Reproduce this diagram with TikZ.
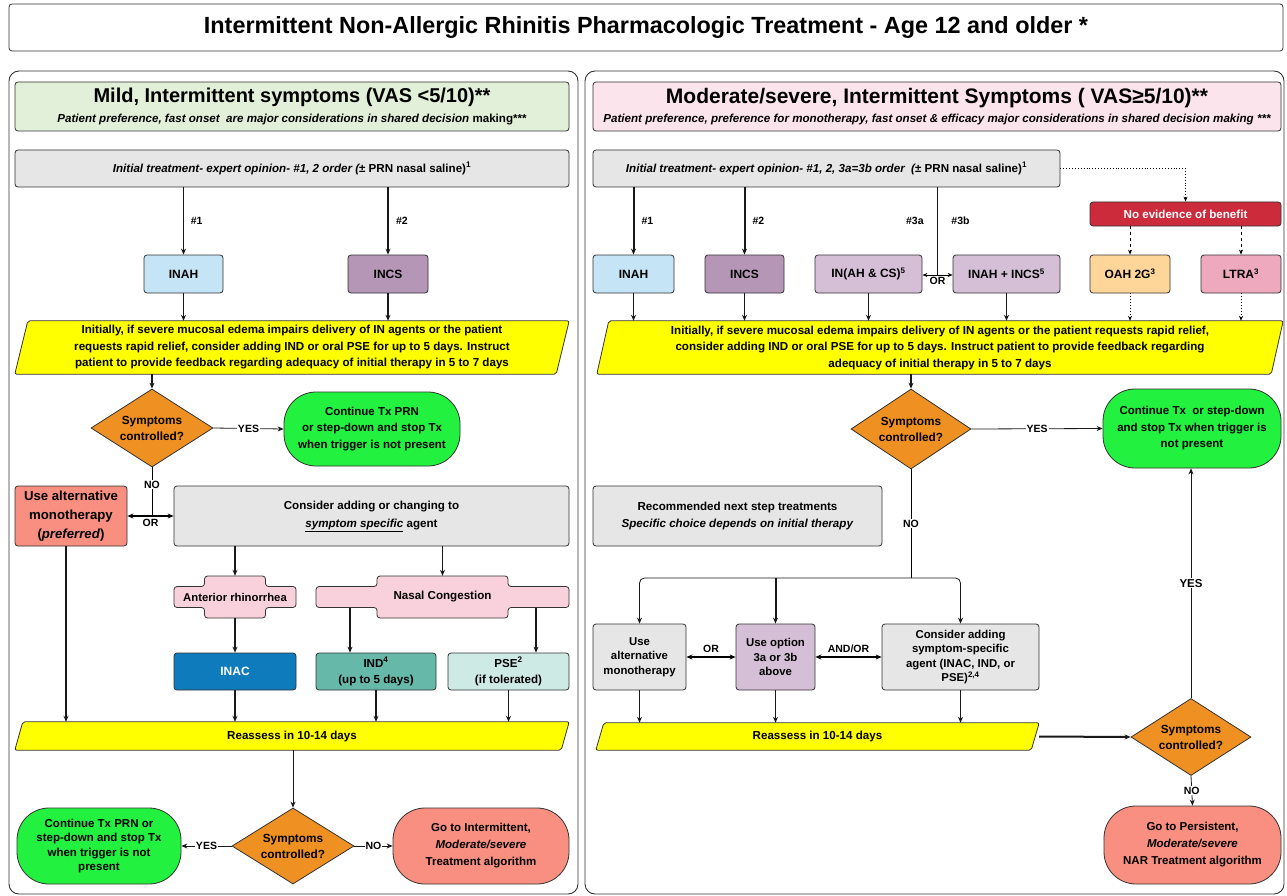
\documentclass[tikz,border=0pt]{standalone}
\usepackage{fontspec}
\setmainfont{Liberation Sans}
\usetikzlibrary{shapes.geometric,arrows.meta,backgrounds,calc}
\definecolor{hdrgreen}{HTML}{E2F0D9}
\definecolor{hdrpink}{HTML}{FCE4EC}
\definecolor{boxgray}{HTML}{E6E6E6}
\definecolor{ahblue}{HTML}{C5E4F5}
\definecolor{cspurple}{HTML}{B596B6}
\definecolor{lilac}{HTML}{D5BFD6}
\definecolor{oahorange}{HTML}{FFD699}
\definecolor{ltrapink}{HTML}{EEA9BE}
\definecolor{evred}{HTML}{CC2B3B}
\definecolor{yel}{HTML}{FFFF00}
\definecolor{dorange}{HTML}{EF9022}
\definecolor{okgreen}{HTML}{22F23F}
\definecolor{salmon}{HTML}{F98F80}
\definecolor{crosspink}{HTML}{F9D1DC}
\definecolor{inacblue}{HTML}{0E7BBD}
\definecolor{indteal}{HTML}{66B8A9}
\definecolor{pseteal}{HTML}{CDEAE4}
\definecolor{edge}{HTML}{333333}
\newcommand{\yelpara}[2]{%
  \begin{scope}[on background layer]
  \draw[fill=yel, draw=edge, line width=0.8pt, rounded corners=2pt]
    ([xshift=#2]#1.north west) -- (#1.north east) -- ([xshift=-#2]#1.south east) -- (#1.south west) -- cycle;
  \end{scope}}
\newcommand{\crossshape}[5]{%
  \begin{scope}[on background layer, shift={(#1.center)}]
  \draw[fill=crosspink, draw=edge, line width=0.8pt, rounded corners=3pt]
    (-#4,-#5) -- (#4,-#5) -- (#4,-#3) -- (#2,-#3) -- (#2,#3) -- (#4,#3) -- (#4,#5)
    -- (-#4,#5) -- (-#4,#3) -- (-#2,#3) -- (-#2,-#3) -- (-#4,-#3) -- cycle;
  \end{scope}}
\begin{document}
\begin{tikzpicture}[x=1pt,y=-1pt,
  base/.style={font=\bfseries\fontsize{11.6}{16.5}\selectfont, align=center, inner sep=2pt, text=black},
  box/.style={base, draw=edge, line width=0.8pt, rounded corners=3pt},
  dia/.style={base, shape=diamond, draw=edge, line width=0.8pt, fill=dorange, aspect=1.6, inner sep=0pt,
    minimum width=122pt, minimum height=78pt, font=\bfseries\fontsize{11.8}{16}\selectfont},
  stad/.style={base, draw=edge, line width=0.8pt, rounded corners=32pt, font=\bfseries\fontsize{11.5}{16.5}\selectfont},
  lbl/.style={font=\bfseries\fontsize{10.5}{11}\selectfont, fill=white, inner sep=1pt},
  lblp/.style={font=\bfseries\fontsize{10.5}{11}\selectfont, inner sep=1pt},
  arr/.style={-{Stealth[length=6pt,width=5pt]}, line width=1.3pt, draw=black!90},
  tarr/.style={arr, line width=0.8pt},
  barr/.style={arr, line width=2pt},
  darr/.style={{Stealth[length=6pt,width=5pt]}-{Stealth[length=6pt,width=5pt]}, line width=1.4pt},
  plainline/.style={line width=1.3pt, draw=black!90},
  tag/.style={font=\bfseries\fontsize{12}{14}\selectfont},
]
\useasboundingbox (0,0) rectangle (1287,896);
\begin{scope}[on background layer]
\fill[white] (0,0) rectangle (1287,896);
\end{scope}

% title and panels
\node[box, fill=white, minimum width=1274pt, minimum height=47pt, font=\bfseries\fontsize{23.4}{26}\selectfont] (title) at (646,27.5)
  {Intermittent Non-Allergic Rhinitis Pharmacologic Treatment - Age 12 and older *};
\draw[edge, line width=0.9pt, rounded corners=10pt] (9,71) rectangle (578,894);
\draw[edge, line width=0.9pt, rounded corners=10pt] (585,71) rectangle (1284,894);

% ================= LEFT =================
\node[box, fill=hdrgreen, minimum width=554pt, minimum height=49pt] (lhead) at (292,106.5)
  {{\fontsize{20}{22}\selectfont Mild, Intermittent symptoms (VAS <5/10)**}\\[3pt]
   {\fontsize{11.6}{13}\selectfont\itshape Patient preference, fast onset\ \ are major considerations in shared decision \upshape making***}};
\node[box, fill=boxgray, minimum width=554pt, minimum height=37pt] (lit) at (292,168.5)
  {\itshape Initial treatment- expert opinion- \#1, 2 order (\upshape± PRN nasal saline)\textsuperscript{1}};
\node[box, fill=ahblue, minimum width=79pt, minimum height=38pt, tag] (linah) at (183.5,274) {INAH};
\node[box, fill=cspurple, minimum width=80pt, minimum height=38pt, tag] (lincs) at (388,274) {INCS};
\node[base, minimum width=554pt, minimum height=53pt] (ly) at (292,347.5)
  {Initially, if severe mucosal edema impairs delivery of IN agents or the patient\\
   requests rapid relief, consider adding IND or oral PSE for up to 5 days. Instruct\\
   patient to provide feedback regarding adequacy of initial therapy in 5 to 7 days};
\yelpara{ly}{13pt}
\node[dia] (ld1) at (152,428) {Symptoms\\controlled?};
\node[stad, fill=okgreen, minimum width=176pt, minimum height=74pt] (lg1) at (372,429)
  {Continue Tx PRN\\or step-down and stop Tx\\when trigger is not present};
\node[box, fill=salmon, minimum width=112pt, minimum height=60pt, font=\bfseries\fontsize{13.2}{19}\selectfont] (lalt) at (71,516)
  {Use alternative\\monotherapy\\(\textit{preferred})};
\node[box, fill=boxgray, minimum width=395pt, minimum height=60pt, font=\bfseries\fontsize{11.6}{18}\selectfont] (lcons) at (371.5,516)
  {Consider adding or changing to\\\underline{\itshape symptom specific} agent};
\node[base, minimum width=122pt, minimum height=42pt, inner sep=0pt, font=\bfseries\fontsize{11.3}{12}\selectfont] (ar) at (235,597) {Anterior rhinorrhea};
\crossshape{ar}{61}{10.5}{30.5}{21}
\node[base, minimum width=253pt, minimum height=42pt, font=\bfseries\fontsize{11.6}{12}\selectfont] (nc) at (442.5,597) {Nasal Congestion};
\crossshape{nc}{126.5}{10.5}{65.5}{21}
\node[box, fill=inacblue, text=white, minimum width=122pt, minimum height=37pt, tag] (inac) at (235,671.5) {INAC};
\node[box, fill=indteal, minimum width=120pt, minimum height=37pt, font=\bfseries\fontsize{11.6}{16}\selectfont] (ind) at (376,671.5) {IND\textsuperscript{4}\\(up to 5 days)};
\node[box, fill=pseteal, minimum width=121pt, minimum height=37pt, font=\bfseries\fontsize{11.6}{16}\selectfont] (pse) at (508.5,671.5) {PSE\textsuperscript{2}\\(if tolerated)};
\node[base, minimum width=554pt, minimum height=28pt] (lr) at (292,736) {Reassess in 10-14 days};
\yelpara{lr}{8pt}
\node[dia, minimum height=76pt] (ld2) at (293,846) {Symptoms\\controlled?};
\node[stad, fill=okgreen, minimum width=164pt, minimum height=76pt, font=\bfseries\fontsize{11.5}{14.2}\selectfont] (lg2) at (99,846)
  {Continue Tx PRN or\\step-down and stop Tx\\when trigger is not\\present};
\node[stad, fill=salmon, minimum width=176pt, minimum height=76pt, font=\bfseries\fontsize{11.5}{17}\selectfont] (ls) at (481,846)
  {Go to Intermittent,\\\textit{Moderate/severe}\\Treatment algorithm};

% left connectors
\draw[tarr] (lit.south -| linah) -- (linah.north) node[lblp, midway, right=6pt]{\#1};
\draw[barr] (lit.south -| lincs) -- (lincs.north) node[lblp, midway, right=6pt]{\#2};
\draw[tarr] (linah.south) -- (linah.south |- ly.north);
\draw[arr] (lincs.south) -- (lincs.south |- ly.north);
\draw[arr] (ly.south -| ld1.north) -- (ld1.north);
\draw[tarr] (ld1.east) -- (lg1.west) node[lbl, midway]{YES};
\coordinate (lno) at (ld1.south |- lalt.east);
\draw[line width=0.8pt] (ld1.south) -- (lno) node[lbl, pos=0.35]{NO};
\draw[darr] (lalt.east) -- (lcons.west) node[lblp, midway, below=1pt]{OR};
\draw[arr] (lcons.south -| ar.north) -- (ar.north);
\draw[arr] (lcons.south -| nc.north) -- (nc.north);
\draw[arr] (ar.south) -- (inac.north);
\coordinate (ncb) at ([yshift=10.5pt]nc.south);
\coordinate (indtop) at ([xshift=-26pt]ind.north);
\coordinate (psetop) at ([xshift=27.5pt]pse.north);
\draw[arr] (indtop |- ncb) -- (indtop);
\draw[arr] (psetop |- ncb) -- (psetop);
\coordinate (laltb) at ([xshift=-5pt]lalt.south);
\draw[barr] (laltb) -- (laltb |- lr.north);
\draw[arr] (inac.south) -- (inac.south |- lr.north);
\draw[arr] (ind.south) -- (ind.south |- lr.north);
\draw[arr] (pse.south) -- (pse.south |- lr.north);
\draw[tarr] (lr.south -| ld2.north) -- (ld2.north);
\draw[tarr] (ld2.west) -- (lg2.east) node[lbl, midway]{YES};
\draw[tarr] (ld2.east) -- (ls.west) node[lbl, midway]{NO};

% ================= RIGHT =================
\node[box, fill=hdrpink, minimum width=688pt, minimum height=49pt] (rhead) at (937,106.5)
  {{\fontsize{21}{22}\selectfont Moderate/severe, Intermittent Symptoms ( VAS≥5/10)**}\\[3pt]
   {\fontsize{11.6}{13}\selectfont\itshape Patient preference, preference for monotherapy, fast onset \& efficacy major considerations in shared decision making ***}};
\node[box, fill=boxgray, minimum width=467pt, minimum height=37pt] (rit) at (826.5,168.5)
  {\itshape Initial treatment- expert opinion- \#1, 2, 3a=3b order\ \ (\upshape± PRN nasal saline)\textsuperscript{1}};
\node[box, fill=evred, text=white, minimum width=191pt, minimum height=24pt, inner sep=0pt] (noev) at (1185.5,214) {No evidence of benefit};
\node[box, fill=ahblue, minimum width=81pt, minimum height=38pt, tag] (rinah) at (633.5,274) {INAH};
\node[box, fill=cspurple, minimum width=79pt, minimum height=38pt, tag] (rincs) at (744.5,274) {INCS};
\node[box, fill=lilac, minimum width=107pt, minimum height=38pt, tag] (rinahcs) at (868.5,274) {IN(AH \& CS)\textsuperscript{5}};
\node[box, fill=lilac, minimum width=107pt, minimum height=38pt, tag] (rinahincs) at (1006.5,274) {INAH + INCS\textsuperscript{5}};
\node[box, fill=oahorange, minimum width=80pt, minimum height=38pt, tag] (oah) at (1130,274) {OAH 2G\textsuperscript{3}};
\node[box, fill=ltrapink, minimum width=80pt, minimum height=38pt, tag] (ltra) at (1241,274) {LTRA\textsuperscript{3}};
\node[base, minimum width=686pt, minimum height=53pt] (ry) at (940,347.5)
  {Initially, if severe mucosal edema impairs delivery of IN agents or the patient requests rapid relief,\\
   consider adding IND or oral PSE for up to 5 days. Instruct patient to provide feedback regarding\\
   adequacy of initial therapy in 5 to 7 days};
\yelpara{ry}{12pt}
\node[dia, minimum width=120pt, minimum height=80pt] (rd1) at (911,429) {Symptoms\\controlled?};
\node[stad, fill=okgreen, minimum width=178pt, minimum height=79pt] (rg) at (1192,428.5)
  {Continue Tx\ \ or step-down\\and stop Tx when trigger is\\not present};
\node[box, fill=boxgray, minimum width=289pt, minimum height=60pt, font=\bfseries\fontsize{11.6}{16.5}\selectfont] (rec) at (737.5,516)
  {Recommended next step treatments\\\textit{Specific choice depends on initial therapy}};
\node[box, fill=boxgray, minimum width=93pt, minimum height=66pt, inner sep=0pt, font=\bfseries\fontsize{11.4}{14.5}\selectfont] (ruse) at (639.5,657)
  {Use\\alternative\\monotherapy};
\node[box, fill=lilac, minimum width=79pt, minimum height=66pt, inner sep=0pt, font=\bfseries\fontsize{11.4}{14.5}\selectfont] (ropt) at (775.5,657)
  {Use option\\3a or 3b\\above};
\node[box, fill=boxgray, minimum width=157pt, minimum height=66pt, inner sep=0pt, font=\bfseries\fontsize{11.4}{14.2}\selectfont] (rcons) at (960.5,657)
  {Consider adding\\symptom-specific\\agent (INAC, IND, or\\PSE)\textsuperscript{2,4}};
\node[base, minimum width=443pt, minimum height=27pt] (rr) at (817.5,736.5) {Reassess in 10-14 days};
\yelpara{rr}{8pt}
\node[dia, minimum width=120pt, minimum height=77pt] (rd2) at (1191,737) {Symptoms\\controlled?};
\node[stad, fill=salmon, minimum width=177pt, minimum height=78pt, font=\bfseries\fontsize{11.5}{17}\selectfont] (rs) at (1192.5,845)
  {Go to Persistent,\\\textit{Moderate/severe}\\NAR Treatment algorithm};

% right connectors
\draw[barr] (rit.south -| rinah.north) -- (rinah.north) node[lblp, midway, right=6pt]{\#1};
\draw[barr] (rit.south -| rincs.north) -- (rincs.north) node[lblp, midway, right=6pt]{\#2};
\coordinate (jor) at ($(rinahcs.east)!0.5!(rinahincs.west)+(0,1)$);
\draw[plainline, line width=1.8pt] (rit.south -| jor) -- (jor)
  node[lblp, pos=0.38, left=12pt]{\#3a} node[lblp, pos=0.38, right=12pt]{\#3b};
\draw[{Stealth[length=5pt,width=4pt]}-{Stealth[length=5pt,width=4pt]}, line width=1pt] (rinahcs.east |- jor) -- (rinahincs.west |- jor)
  node[lblp, midway, below=1pt]{OR};
\draw[dotted, line width=0.9pt, -{Stealth[length=5pt,width=4pt]}] (rit.east) -- (noev.north |- rit.east) -- (noev.north);
\draw[dash pattern=on 3pt off 3pt, line width=0.9pt, -{Stealth[length=5pt,width=4pt]}] (oah.north |- noev.south) -- (oah.north);
\draw[dash pattern=on 3pt off 3pt, line width=0.9pt, -{Stealth[length=5pt,width=4pt]}] (ltra.north |- noev.south) -- (ltra.north);
\draw[dotted, line width=0.9pt, -{Stealth[length=5pt,width=4pt]}] (oah.south) -- (oah.south |- ry.north);
\draw[dotted, line width=0.9pt, -{Stealth[length=5pt,width=4pt]}] (ltra.south) -- (ltra.south |- ry.north);
\draw[arr] (rinah.south) -- (rinah.south |- ry.north);
\draw[arr] (rincs.south) -- (rincs.south |- ry.north);
\draw[arr] (rinahcs.south) -- (rinahcs.south |- ry.north);
\draw[arr] (rinahincs.south) -- (rinahincs.south |- ry.north);
\draw[arr] (ry.south -| rd1.north) -- (rd1.north);
\draw[tarr] (rd1.east) -- (rg.west) node[lbl, midway]{YES};
\coordinate (rj) at (911,578);
\draw[line width=0.8pt] (rd1.south) -- (rj) node[lbl, midway]{NO};
\draw[tarr, rounded corners=5pt] (rj) -| (ruse.north);
\draw[tarr, rounded corners=5pt] (rj) -| (rcons.north);
\draw[barr] (ropt.north |- rj) -- (ropt.north);
\draw[darr] (ruse.east) -- (ropt.west) node[lblp, midway, above=3pt]{OR};
\draw[darr] (ropt.east) -- (rcons.west) node[lblp, midway, above=3pt]{AND/OR};
\draw[arr] (ruse.south) -- (ruse.south |- rr.north);
\draw[arr] (ropt.south) -- (ropt.south |- rr.north);
\draw[arr] (rcons.south) -- (rcons.south |- rr.north);
\draw[barr] (rr.east) -- (rd2.west);
\draw[tarr] (rd2.north) -- (rd2.north |- rg.south) node[lbl, midway, font=\bfseries\fontsize{11.5}{12}\selectfont]{YES};
\draw[tarr] (rd2.south) -- (rs.north) node[lbl, midway]{NO};
\end{tikzpicture}
\end{document}
